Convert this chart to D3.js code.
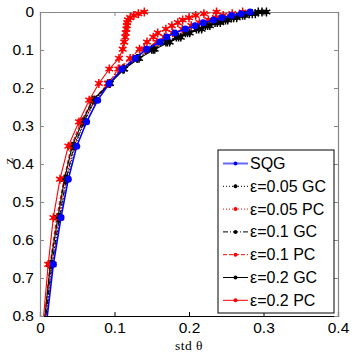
<!DOCTYPE html>
<html>
<head>
<meta charset="utf-8">
<script src="https://cdn.jsdelivr.net/npm/d3@7"></script>
<style>
  body { margin: 0; background: #fff; }
  text { font-family: "Liberation Sans", Arial, sans-serif; }
</style>
</head>
<body>
<div id="chart"></div>
<script>
// depth levels (model grid), shared by every run
var zLevels = [0, 0.0045, 0.009, 0.015, 0.021, 0.028, 0.036, 0.045, 0.055, 0.066, 0.079,
               0.098, 0.122, 0.15, 0.188, 0.232, 0.289, 0.353, 0.44, 0.541, 0.664, 0.82];

var sqg    = [0.282, 0.270, 0.257, 0.244, 0.233, 0.219, 0.208, 0.195, 0.181, 0.170, 0.161,
              0.143, 0.128, 0.110, 0.093, 0.0774, 0.0626, 0.0493, 0.038, 0.0282, 0.0179, 0.0086];
var gc005  = [0.293, 0.281, 0.268, 0.257, 0.246, 0.235, 0.222, 0.210, 0.195, 0.183, 0.169,
              0.150, 0.130, 0.111, 0.093, 0.0735, 0.060, 0.0468, 0.0365, 0.027, 0.0168, 0.0076];
var pc005  = [0.272, 0.258, 0.246, 0.236, 0.226, 0.214, 0.203, 0.191, 0.178, 0.167, 0.157,
              0.140, 0.125, 0.107, 0.091, 0.074, 0.059, 0.046, 0.035, 0.0255, 0.0155, 0.007];
var gc01   = [0.298, 0.285, 0.272, 0.260, 0.249, 0.238, 0.225, 0.213, 0.198, 0.186, 0.171,
              0.152, 0.131, 0.112, 0.093, 0.0725, 0.059, 0.0455, 0.0352, 0.026, 0.0158, 0.0068];
var pc01   = [0.237, 0.220, 0.209, 0.200, 0.1915, 0.185, 0.177, 0.169, 0.158, 0.152, 0.1436,
              0.1336, 0.121, 0.105, 0.0917, 0.0707, 0.055, 0.042, 0.0322, 0.0224, 0.0134, 0.0055];
var gc02   = [0.304, 0.289, 0.275, 0.264, 0.252, 0.242, 0.228, 0.217, 0.201, 0.189, 0.174,
              0.154, 0.133, 0.113, 0.094, 0.0705, 0.057, 0.0432, 0.033, 0.024, 0.014, 0.0055];
var pc02   = [0.140, 0.132, 0.126, 0.121, 0.118, 0.117, 0.1165, 0.116, 0.115, 0.1145, 0.113,
              0.111, 0.106, 0.093, 0.079, 0.066, 0.0523, 0.038, 0.0268, 0.0179, 0.011, 0.004];

var xTicks = [0, 0.1, 0.2, 0.3, 0.4];
var yTicks = [0, 0.1, 0.2, 0.3, 0.4, 0.5, 0.6, 0.7, 0.8];

// series in legend order; drawn with SQG on top
var series = [
    {name: "SQG",          values: sqg,   color: "#0000ff", dash: null,        marker: "dot"},
    {name: "\u03b5=0.05 GC", values: gc005, color: "#000000", dash: "1,2",       marker: "star"},
    {name: "\u03b5=0.05 PC", values: pc005, color: "#ff0000", dash: "1,2",       marker: "star"},
    {name: "\u03b5=0.1 GC",  values: gc01,  color: "#000000", dash: "5,2,1,2",   marker: "star"},
    {name: "\u03b5=0.1 PC",  values: pc01,  color: "#ff0000", dash: "4,2",       marker: "star"},
    {name: "\u03b5=0.2 GC",  values: gc02,  color: "#000000", dash: null,        marker: "star"},
    {name: "\u03b5=0.2 PC",  values: pc02,  color: "#ff0000", dash: null,        marker: "star"}
];

var width = 354, height = 354;
var margin = {top: 12, right: 16, bottom: 38, left: 40};
var plotW = width - margin.left - margin.right;
var plotH = height - margin.top - margin.bottom;

var x = d3.scaleLinear().domain([0, 0.4]).range([0, plotW]);
var y = d3.scaleLinear().domain([0, 0.8]).range([0, plotH]);

var svg = d3.select("#chart").append("svg")
    .attr("width", width)
    .attr("height", height);

var g = svg.append("g")
    .attr("transform", "translate(" + margin.left + "," + margin.top + ")");

g.append("clipPath").attr("id", "clip")
  .append("rect")
    .attr("x", 0).attr("y", -10)
    .attr("width", plotW).attr("height", plotH + 10);

// axes (ticks inside, MATLAB style)
var fmt = function (d) { return d === 0 ? "0" : d3.format(".1f")(d); };

var xAxis = g.append("g")
    .attr("transform", "translate(0," + plotH + ")")
    .call(d3.axisBottom(x).tickValues(xTicks).tickSize(-4).tickPadding(6).tickFormat(fmt));
var yAxis = g.append("g")
    .call(d3.axisLeft(y).tickValues(yTicks).tickSize(-4).tickPadding(6).tickFormat(fmt));
var xTop = g.append("g")
    .call(d3.axisTop(x).tickValues(xTicks).tickSize(-4).tickFormat(""));
var yRight = g.append("g")
    .attr("transform", "translate(" + plotW + ",0)")
    .call(d3.axisRight(y).tickValues(yTicks).tickSize(-4).tickFormat(""));

[xAxis, yAxis, xTop, yRight].forEach(function (a) {
    a.select(".domain").attr("stroke", "#888").attr("stroke-width", 1.2);
    a.selectAll(".tick line").attr("stroke", "#888");
    a.selectAll(".tick text")
        .attr("fill", "#000")
        .style("font-size", "15.5px")
        .style("font-family", "'Liberation Sans', Arial, sans-serif");
});
xAxis.select(".domain").attr("stroke", "#000");
xAxis.selectAll(".tick line").attr("stroke", "#000");

// curves
var line = d3.line()
    .x(function (d) { return x(d[0]); })
    .y(function (d) { return y(d[1]); });

var star = d3.symbol().type(d3.symbolAsterisk).size(55);

function drawMarker(sel, s) {
    if (s.marker === "dot") {
        sel.append("circle").attr("r", 3.5).attr("fill", s.color);
    } else {
        sel.append("circle").attr("r", 2.2).attr("fill", s.color);
        sel.append("path").attr("d", star())
            .attr("fill", "none").attr("stroke", s.color).attr("stroke-width", 1.5);
    }
}

var drawOrder = series.slice(1).concat([series[0]]);

drawOrder.forEach(function (s) {
    var pts = s.values.map(function (v, i) { return [v, zLevels[i]]; });
    var sg = g.append("g").attr("clip-path", "url(#clip)");
    sg.append("path")
        .datum(pts)
        .attr("d", line)
        .attr("fill", "none")
        .attr("stroke", s.color)
        .attr("stroke-width", s.marker === "dot" ? 1.6 : 1.1)
        .attr("stroke-dasharray", s.dash);
    sg.selectAll("g.m")
        .data(pts)
        .enter().append("g")
        .attr("class", "m")
        .attr("transform", function (d) { return "translate(" + x(d[0]) + "," + y(d[1]) + ")"; })
        .each(function () { drawMarker(d3.select(this), s); });
});

// axis labels
svg.append("text")
    .attr("x", margin.left + x(0.2))
    .attr("y", 350)
    .attr("text-anchor", "middle")
    .style("font-family", "'Liberation Serif', 'DejaVu Serif', serif")
    .style("font-size", "13.5px")
    .style("letter-spacing", "0.5px")
    .text("std \u03b8");

svg.append("text")
    .attr("transform", "translate(13," + (margin.top + y(0.4) - 3) + ") rotate(-90)")
    .attr("text-anchor", "middle")
    .style("font-family", "'Liberation Serif', 'DejaVu Serif', serif")
    .style("font-size", "13.5px")
    .text("z");

// legend
var legend = svg.append("g").attr("transform", "translate(218,150)");
legend.append("rect")
    .attr("width", 116).attr("height", 163)
    .attr("fill", "#fff").attr("stroke", "#000").attr("stroke-width", 1);

series.forEach(function (s, i) {
    var ly = 13.5 + i * 22.8;
    var row = legend.append("g").attr("transform", "translate(0," + ly + ")");
    row.append("line")
        .attr("x1", 5).attr("x2", 30)
        .attr("stroke", s.color)
        .attr("stroke-opacity", s.marker === "dot" ? 0.6 : 1)
        .attr("stroke-width", s.marker === "dot" ? 2 : 1)
        .attr("stroke-dasharray", s.dash);
    row.append("circle").attr("cx", 17.5).attr("r", 2).attr("fill", s.color);
    row.append("text")
        .attr("x", 32).attr("y", 5.5)
        .style("font-size", "16px")
        .text(s.name);
});
</script>
</body>
</html>
